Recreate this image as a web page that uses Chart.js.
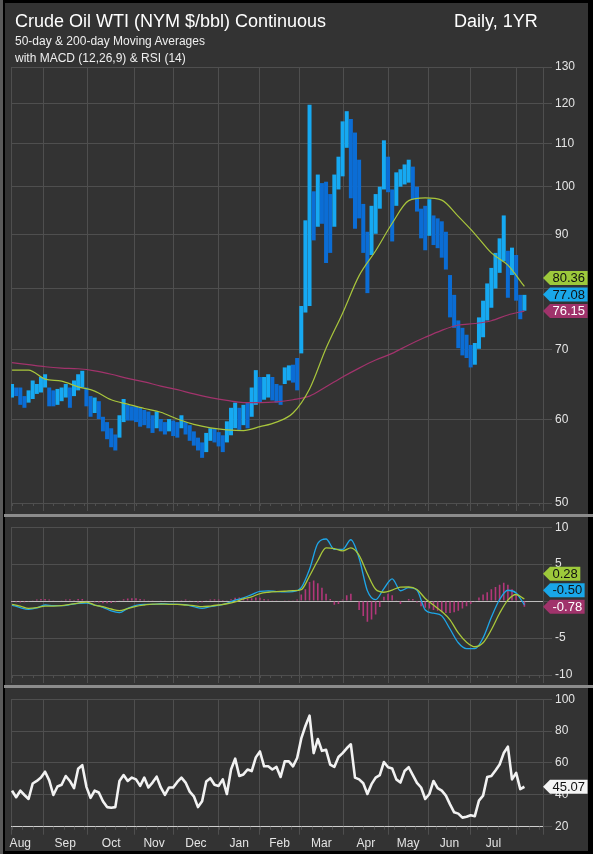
<!DOCTYPE html>
<html><head><meta charset="utf-8">
<script src="https://cdn.jsdelivr.net/npm/chart.js@4.4.0/dist/chart.umd.min.js"></script>
<style>
html,body{margin:0;padding:0;background:#000;}
#wrap{position:relative;width:593px;height:854px;overflow:hidden;background:#000;}
#frame{position:absolute;left:5px;top:3px;width:583px;height:848px;background:#333;}
#lstrip{position:absolute;left:0;top:0;width:3px;height:854px;background:#5a5a5a;}
.sep{position:absolute;left:4px;width:589px;height:3px;background:#8c8c8c;}
canvas{position:absolute;left:0;}
.t{position:absolute;font-family:"Liberation Sans",Arial,sans-serif;white-space:nowrap;line-height:1;}
</style></head>
<body><div id="wrap">
<div id="lstrip"></div>
<div id="frame"></div>
<canvas id="c1" width="593" height="515" style="top:0px;width:593px;height:515px"></canvas>
<canvas id="c2" width="593" height="170" style="top:517px;width:593px;height:170px"></canvas>
<canvas id="c3" width="593" height="165" style="top:689px;width:593px;height:165px"></canvas>
<div class="sep" style="top:514px"></div>
<div class="sep" style="top:685px"></div>
<div class="t" style="left:15px;top:11.5px;font-size:18px;color:#fff">Crude Oil WTI (NYM $/bbl) Continuous</div>
<div class="t" style="left:454px;top:11.5px;font-size:18px;color:#fff">Daily, 1YR</div>
<div class="t" style="left:15px;top:35px;font-size:12px;color:#eee">50-day &amp; 200-day Moving Averages</div>
<div class="t" style="left:15px;top:52px;font-size:12px;color:#eee">with MACD (12,26,9) &amp; RSI (14)</div>
</div>
<script>
// ---------- DATA (x = trading-day index) ----------
const PRICE_STEP = 2, MA_STEP = 8, MACD_STEP = 4, HIST_STEP = 2, RSI_STEP = 2;
const priceHigh = [
64.9,64.4,64.4,63.2,64.0,65.4,64.9,65.9,66.3,64.4,
64.0,64.2,64.4,64.9,64.4,65.4,66.3,66.8,64.4,63.2,
63.0,62.5,60.4,59.7,58.9,58.1,60.6,62.8,62.0,61.8,
61.8,61.6,61.3,61.1,60.6,61.1,60.1,59.7,60.1,59.9,
59.7,60.6,59.7,59.3,58.5,57.7,57.1,58.3,58.9,58.9,
58.4,58.0,59.8,61.6,62.3,61.6,62.0,62.3,64.4,66.9,
65.9,65.9,66.3,65.9,64.9,64.7,67.3,67.6,67.7,68.7,
77.0,92.9,119.7,99.0,102.7,100.8,101.1,98.4,102.7,106.8,
115.4,118.0,116.0,112.6,106.1,96.3,90.6,95.9,98.4,100.0,
110.7,106.8,99.4,103.2,103.9,105.0,106.1,104.5,100.0,95.3,
95.9,97.3,93.9,93.3,92.7,90.6,82.4,78.9,74.6,73.4,
72.3,70.7,71.0,75.1,77.9,80.9,83.7,86.5,89.3,93.9,
86.9,87.5,86.1,78.9,78.9];
const priceLow = [
63.0,63.2,62.0,61.6,62.3,62.8,63.5,63.7,64.4,61.8,
61.8,62.0,62.5,63.0,61.6,63.2,64.0,64.4,61.8,60.4,
60.9,60.1,58.5,57.5,56.5,56.1,57.7,59.7,59.9,59.9,
59.7,59.1,59.3,58.9,58.3,58.9,58.5,58.1,58.5,57.9,
57.7,58.9,58.1,57.3,56.7,56.1,55.2,55.9,57.3,57.1,
56.6,55.9,57.1,58.0,58.9,58.7,59.3,58.9,60.4,62.0,
62.3,62.7,63.0,62.6,62.3,62.0,64.9,65.4,65.1,64.0,
69.4,75.9,77.0,88.9,91.6,92.2,84.6,86.5,91.6,99.4,
102.3,108.9,97.5,91.2,93.3,86.5,79.2,86.1,90.2,95.3,
99.4,98.8,88.7,95.9,100.0,100.5,100.9,97.3,94.7,89.3,
87.0,89.8,88.0,87.4,85.6,83.4,75.1,73.4,70.2,69.1,
68.7,67.3,67.7,70.1,71.9,74.6,76.7,80.0,82.8,84.9,
78.4,82.4,77.9,74.8,76.2];
const lastClose = 77.08;
const ma50 = [66.9,66.9,65.6,65.3,64.5,63.9,62.7,62.1,61.5,61.0,60.1,59.4,58.95,58.7,58.6,59.1,
59.7,60.9,64.2,70.2,75.8,82.3,86.9,92.3,97.0,97.6,97.1,93.7,90.2,86.5,84.2,80.36];
const ma200 = [68.0,67.7,67.4,67.2,67.1,66.8,66.3,65.7,65.2,64.6,64.1,63.5,63.0,62.6,62.3,62.3,
62.4,62.7,63.2,64.5,65.9,67.2,68.4,69.4,70.7,71.9,73.0,73.85,74.1,74.55,75.5,76.15];
const macdLine = [
-0.53,-0.89,-1.11,-0.93,-0.53,-0.62,-0.62,-0.49,-0.31,-0.27,
-0.53,-0.84,-1.33,-1.56,-0.98,-0.58,-0.44,-0.44,-0.36,-0.40,
-0.44,-0.49,-0.76,-0.98,-0.76,-0.58,-0.31,0.13,0.44,0.89,
1.33,1.38,1.29,1.24,1.29,1.82,4.3,7.8,8.4,7.0,
7.0,8.3,5.8,1.4,0.2,1.7,3.0,1.4,1.82,1.47,
-1.20,-1.64,-2.00,-3.78,-5.64,-6.44,-6.44,-4.98,-2.18,0.22,
1.47,1.11,-0.50];
const signalLine = [
-0.44,-0.67,-0.98,-0.89,-0.67,-0.67,-0.62,-0.44,-0.27,-0.13,
-0.53,-0.76,-1.07,-1.29,-1.02,-0.71,-0.53,-0.40,-0.40,-0.44,
-0.44,-0.53,-0.62,-0.76,-0.67,-0.53,-0.36,-0.09,0.31,0.58,
1.02,1.20,1.29,1.33,1.42,1.56,3.4,5.5,7.2,7.1,
6.8,7.2,6.2,3.7,1.6,1.2,1.5,1.9,1.91,1.56,
0.36,-0.53,-1.42,-2.53,-4.31,-5.56,-6.18,-5.64,-3.87,-1.64,
0.13,0.89,0.28];
const macdHist = [
-0.1,-0.15,-0.2,-0.15,-0.1,0.1,0.2,0.3,0.3,0.2,
0.05,0.0,0.1,0.2,0.25,0.15,0.3,0.3,0.1,-0.1,
-0.15,-0.2,-0.3,-0.3,-0.25,-0.15,0.05,0.25,0.35,0.4,
0.4,0.3,0.2,0.1,0.05,0.0,0.05,0.05,0.0,-0.05,
0.05,0.15,0.2,0.1,-0.1,-0.2,-0.15,0.05,0.2,0.25,
0.2,0.15,0.1,0.25,0.45,0.5,0.4,0.35,0.4,0.5,
0.45,0.3,0.2,0.1,0.05,0.0,0.05,0.1,0.05,0.2,
0.9,1.6,2.6,2.8,2.4,1.8,1.0,0.3,-0.5,-0.4,
0.2,0.8,1.0,0.0,-1.2,-2.0,-2.8,-2.5,-1.8,-0.8,
0.6,1.0,0.8,0.1,-0.4,0.0,0.3,0.3,-0.2,-0.7,
-0.9,-1.0,-1.2,-1.3,-1.5,-1.6,-1.6,-1.5,-1.3,-1.0,
-0.7,-0.4,-0.1,0.5,0.9,1.2,1.6,1.9,2.2,2.5,
2.2,1.6,1.0,0.1,-0.78];
const rsi = [
42.6,38.5,42.6,39.9,37.4,47.1,48.7,50.8,54.5,49.1,
39.9,45.2,46.3,51.8,48.7,44.2,56.3,58.6,45.0,38.1,
42.6,41.5,36.0,32.3,31.9,32.3,48.7,52.4,48.7,50.8,
49.7,45.6,50.8,44.6,47.7,51.4,44.6,39.9,44.6,44.6,
48.1,50.8,47.7,42.0,39.1,32.3,36.0,48.3,50.4,46.3,
45.6,49.7,40.5,55.9,62.7,51.8,52.8,55.9,54.9,63.5,
67.2,57.9,57.9,55.9,57.5,51.2,61.0,61.0,57.9,63.1,
75.4,83.2,89.7,66.2,75.0,67.6,68.2,59.0,57.5,63.7,
66.2,69.2,71.7,50.8,49.7,47.3,40.5,46.7,50.8,52.4,
60.6,57.3,56.5,49.7,47.7,54.9,57.3,52.4,47.5,44.6,
37.4,40.5,48.7,44.2,42.6,39.5,34.0,29.0,28.2,25.7,
26.2,27.2,26.6,36.4,39.5,51.2,51.8,55.3,59.0,66.2,
70.2,49.7,53.8,43.6,45.07];
const monthNames = ['Aug','Sep','Oct','Nov','Dec','Jan','Feb','Mar','Apr','May','Jun','Jul'];
const monthStarts = [-7,15,36.5,59.5,78,100,120,139,160.5,182,201.5,222,244];
const priceTicks = [50,60,70,80,90,100,110,120,130];
const macdTicks = [-10,-5,0,5,10];
const rsiTicks = [20,40,60,80,100];
const X_MIN = -0.5, X_MAX = 257;

// ---------- STYLE ----------
const GRID = '#4f4f4f', TXT = '#e4e4e4', PANEL = '#333333';
const C_UP = '#16a9f2', C_DN = '#0b6dd5';
const C_MA50 = '#a9c63c', C_MA200 = '#a2336c';
const C_MACD = '#1ea6e8', C_SIG = '#a9c83a', C_HIST = '#b2377a';
Chart.defaults.font.family = '"Liberation Sans", Arial, sans-serif';
Chart.defaults.font.size = 12;
Chart.defaults.color = TXT;

const pts = (arr, step) => arr.map((v, i) => ({x: i * step, y: v}));
const monthMids = monthNames.map((m, i) => (monthStarts[i] + monthStarts[i + 1]) / 2);

const xGrid = () => ({
  type: 'linear', min: X_MIN, max: X_MAX, offset: false, position: 'bottom', weight: 0,
  afterBuildTicks: s => { s.ticks = [X_MIN, ...monthStarts.filter(v => v > X_MIN && v < X_MAX), X_MAX].map(v => ({value: v})); },
  afterFit: s => { s.height = 8; },
  grid: {display: true, drawOnChartArea: true, drawTicks: true, tickLength: 8, color: GRID, tickColor: GRID, offset: false},
  border: {display: false},
  ticks: {display: false}
});
const yAxis = (type, min, max, ticks, special, specialColor) => ({
  type, position: 'right', min, max,
  afterBuildTicks: s => { s.ticks = ticks.map(v => ({value: v})); },
  afterFit: s => { s.width = 50; },
  grid: {color: c => (c.tick && c.tick.value === special) ? specialColor : GRID, tickColor: GRID, tickLength: 9, drawTicks: true},
  border: {display: true, color: GRID},
  ticks: {color: TXT, padding: 3, autoSkip: false, font: {size: 12}, callback: v => String(v)}
});

const weekTicks = {
  id: 'weekTicks',
  afterDraw(chart) {
    const xs = chart.scales.x, ca = chart.chartArea, ctx = chart.ctx;
    ctx.save(); ctx.strokeStyle = GRID; ctx.lineWidth = 1; ctx.beginPath();
    for (let d = 0; d <= X_MAX; d += 5) {
      const px = Math.round(xs.getPixelForValue(d)) + 0.5;
      ctx.moveTo(px, ca.bottom); ctx.lineTo(px, ca.bottom + 3);
    }
    ctx.stroke(); ctx.restore();
  }
};
const makeBadges = (items) => ({
  id: 'badges',
  afterDraw(chart) {
    const ys = chart.scales.y, ctx = chart.ctx, x0 = chart.chartArea.right, h = 14;
    const list = items.map(it => Object.assign({}, it, {py: ys.getPixelForValue(it.v)})).sort((a, b) => b.py - a.py);
    for (let i = 1; i < list.length; i++) if (list[i - 1].py - list[i].py < 16.5) list[i].py = list[i - 1].py - 16.5;
    ctx.save();
    if (list.length > 1) {
      // tick labels sitting behind a stacked badge group are hidden
      const top = list[list.length - 1].py - h / 2, bot = list[0].py + h / 2;
      ctx.fillStyle = PANEL; ctx.fillRect(x0 + 10, top, 34, bot - top);
    }
    ctx.font = '13px "Liberation Sans", Arial, sans-serif';
    ctx.textBaseline = 'middle'; ctx.textAlign = 'left';
    list.forEach(it => {
      const txt = it.v.toFixed(2), w = ctx.measureText(txt).width, bx = x0 + 7, bw = w + 5, y = it.py;
      ctx.fillStyle = it.bg; ctx.beginPath();
      ctx.moveTo(x0, y); ctx.lineTo(bx, y - h / 2); ctx.lineTo(bx + bw, y - h / 2);
      ctx.lineTo(bx + bw, y + h / 2); ctx.lineTo(bx, y + h / 2); ctx.closePath(); ctx.fill();
      ctx.fillStyle = it.fg; ctx.fillText(txt, bx + 2.5, y + 0.5);
    });
    ctx.restore();
  }
});

// ---------- PRICE ----------
const mids = priceHigh.map((h, i) => (h + priceLow[i]) / 2);
const barColors = mids.map((m, i) => (i === 0 || m >= mids[i - 1]) ? C_UP : C_DN);
new Chart(document.getElementById('c1'), {
  type: 'bar',
  data: {datasets: [
    {type: 'line', data: pts(ma50, MA_STEP), borderColor: C_MA50, borderWidth: 1.2, pointRadius: 0, tension: 0.4, cubicInterpolationMode: 'monotone', order: 0},
    {type: 'line', data: pts(ma200, MA_STEP), borderColor: C_MA200, borderWidth: 1.2, pointRadius: 0, tension: 0.4, cubicInterpolationMode: 'monotone', order: 1},
    {type: 'bar', data: priceHigh.map((h, i) => ({x: i * PRICE_STEP, y: [priceLow[i], h]})), backgroundColor: barColors, barThickness: 4, inflateAmount: 0, order: 2}
  ]},
  options: {
    responsive: false, animation: false, events: [],
    layout: {padding: {left: 11, right: 0, top: 67, bottom: 4}},
    plugins: {legend: {display: false}, tooltip: {enabled: false}},
    scales: {x: xGrid(), y: yAxis('logarithmic', 50, 130, priceTicks, null, GRID)}
  },
  plugins: [weekTicks, makeBadges([
    {v: ma50[ma50.length - 1], bg: '#9dc93b', fg: '#111'},
    {v: lastClose, bg: '#19a7e9', fg: '#111'},
    {v: ma200[ma200.length - 1], bg: '#a0336b', fg: '#fff'}
  ])]
});

// ---------- MACD ----------
new Chart(document.getElementById('c2'), {
  type: 'bar',
  data: {datasets: [
    {type: 'line', data: pts(signalLine, MACD_STEP), borderColor: C_SIG, borderWidth: 1.3, pointRadius: 0, tension: 0.4, cubicInterpolationMode: 'monotone', order: 0},
    {type: 'line', data: pts(macdLine, MACD_STEP), borderColor: C_MACD, borderWidth: 1.3, pointRadius: 0, tension: 0.4, cubicInterpolationMode: 'monotone', order: 1},
    {type: 'bar', data: pts(macdHist, HIST_STEP), backgroundColor: C_HIST, barThickness: 1.6, inflateAmount: 0, order: 2}
  ]},
  options: {
    responsive: false, animation: false, events: [],
    layout: {padding: {left: 11, right: 0, top: 8.7, bottom: 4}},
    plugins: {legend: {display: false}, tooltip: {enabled: false}},
    scales: {x: xGrid(), y: yAxis('linear', -10, 10, macdTicks, 0, '#bdbdbd')}
  },
  plugins: [weekTicks, makeBadges([
    {v: signalLine[signalLine.length - 1], bg: '#9dc93b', fg: '#111'},
    {v: macdLine[macdLine.length - 1], bg: '#19a7e9', fg: '#111'},
    {v: macdHist[macdHist.length - 1], bg: '#a0336b', fg: '#fff'}
  ])]
});

// ---------- RSI ----------
new Chart(document.getElementById('c3'), {
  type: 'line',
  data: {datasets: [
    {data: pts(rsi, RSI_STEP), borderColor: '#f2f2f2', borderWidth: 2.6, pointRadius: 0, tension: 0, borderJoinStyle: 'round'}
  ]},
  options: {
    responsive: false, animation: false, events: [],
    layout: {padding: {left: 11, right: 0, top: 7.7, bottom: 3.3}},
    plugins: {legend: {display: false}, tooltip: {enabled: false}},
    scales: {
      x: xGrid(),
      xl: {
        type: 'linear', min: X_MIN, max: X_MAX, offset: false, position: 'bottom', weight: 1,
        afterBuildTicks: s => { s.ticks = monthMids.map(v => ({value: v})); },
        afterFit: s => { s.height = 16; },
        grid: {display: false, drawTicks: false},
        border: {display: false},
        ticks: {color: TXT, font: {size: 12}, padding: 2, autoSkip: false, maxRotation: 0, callback: (v, i) => monthNames[i]}
      },
      y: yAxis('linear', 20, 100, rsiTicks, 20, '#cfcfcf')
    }
  },
  plugins: [weekTicks, makeBadges([{v: rsi[rsi.length - 1], bg: '#f4f4f4', fg: '#111'}])]
});
</script>
</body></html>
